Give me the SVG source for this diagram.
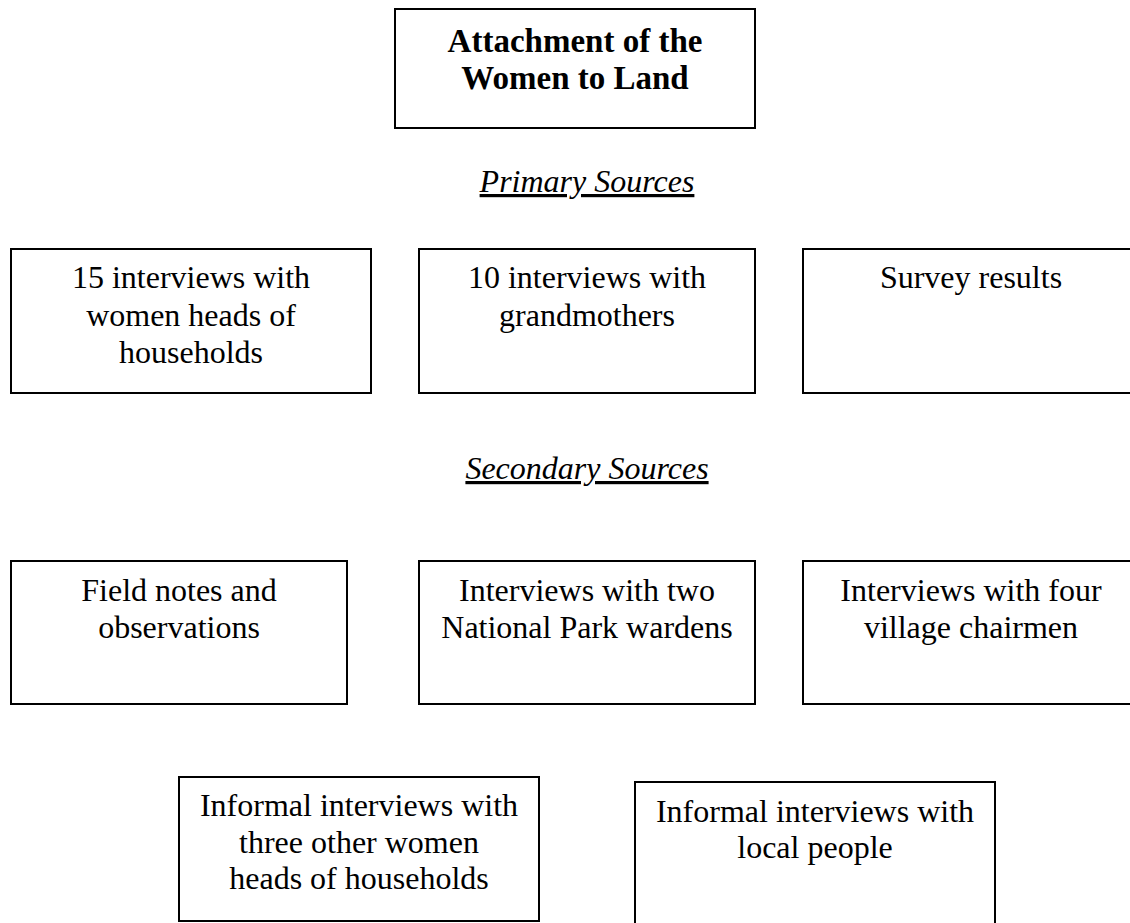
<svg xmlns="http://www.w3.org/2000/svg" width="1130" height="923" viewBox="0 0 1130 923">
<style>
rect{fill:#fff;stroke:#000;stroke-width:2}
text{font-family:"Liberation Serif","Times New Roman",serif;font-size:32px;fill:#000;text-anchor:middle}
.t{font-weight:bold;font-size:33px}
.h{font-style:italic;text-decoration:underline}
</style>
<rect width="1130" height="923" style="stroke:none"/>
<g id="title"><rect x="395" y="9" width="360" height="119"/><text class="t" x="575" y="52">Attachment of the</text><text class="t" x="575" y="89">Women to Land</text></g>
<g id="primary-heading"><text class="h" x="587" y="192">Primary Sources</text></g>
<g id="p1"><rect x="11" y="249" width="360" height="144"/><text x="191" y="288">15 interviews with</text><text x="191" y="326">women heads of</text><text x="191" y="363">households</text></g>
<g id="p2"><rect x="419" y="249" width="336" height="144"/><text x="587" y="288">10 interviews with</text><text x="587" y="326">grandmothers</text></g>
<g id="p3"><rect x="803" y="249" width="336" height="144"/><text x="971" y="288">Survey results</text></g>
<g id="secondary-heading"><text class="h" x="587" y="479">Secondary Sources</text></g>
<g id="s1"><rect x="11" y="561" width="336" height="143"/><text x="179" y="601">Field notes and</text><text x="179" y="638">observations</text></g>
<g id="s2"><rect x="419" y="561" width="336" height="143"/><text x="587" y="601">Interviews with two</text><text x="587" y="638">National Park wardens</text></g>
<g id="s3"><rect x="803" y="561" width="336" height="143"/><text x="971" y="601">Interviews with four</text><text x="971" y="638">village chairmen</text></g>
<g id="s4"><rect x="179" y="777" width="360" height="144"/><text x="359" y="816">Informal interviews with</text><text x="359" y="853">three other women</text><text x="359" y="889">heads of households</text></g>
<g id="s5"><rect x="635" y="782" width="360" height="150"/><text x="815" y="822">Informal interviews with</text><text x="815" y="858">local people</text></g>
<g id="connectors"/>
</svg>
